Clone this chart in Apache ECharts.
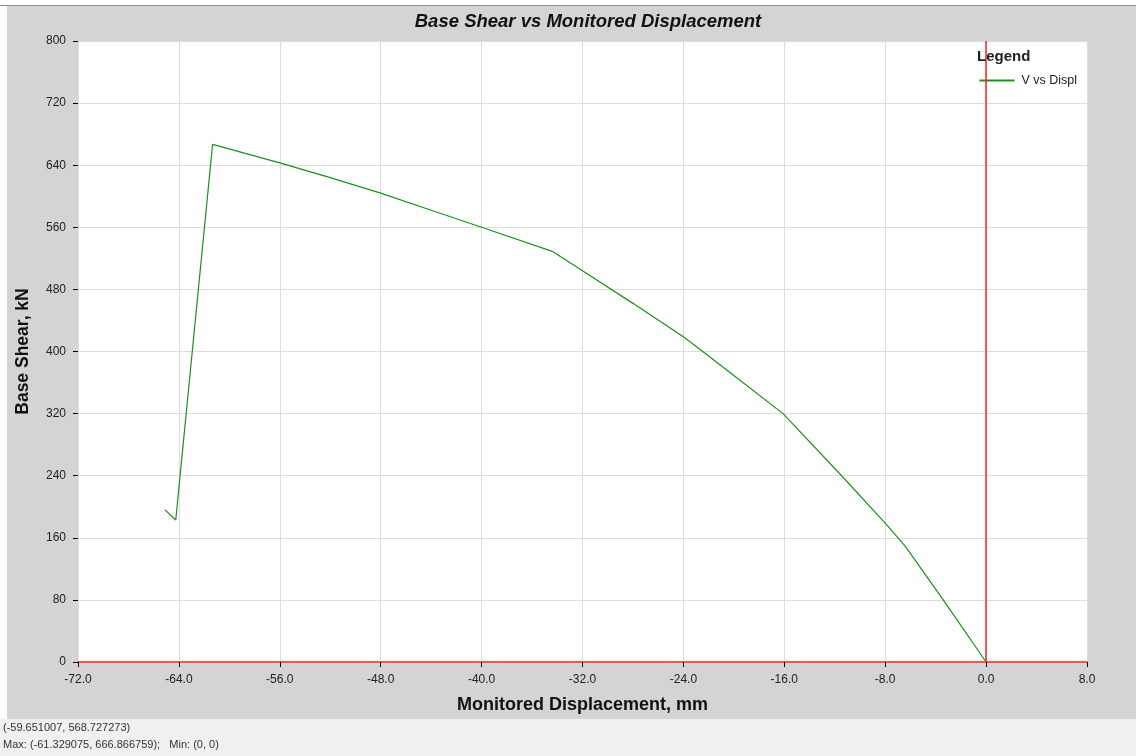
<!DOCTYPE html>
<html>
<head>
<meta charset="utf-8">
<script src="https://cdn.jsdelivr.net/npm/echarts@6/dist/echarts.min.js"></script>
<style>html,body{margin:0;padding:0;}#c{width:1136px;height:756px;}</style>
</head>
<body>
<div id="c"></div>
<script>
const displacement = [-65.1, -64.25, -61.33, -56, -52, -48, -44, -40, -34.4, -32, -28, -24, -22.7, -20, -16.1, -11.4, -8, -6.4, -3.4, 0];
const baseShear    = [196, 183, 666.87, 643, 624, 604, 582, 560, 529, 504, 462, 419, 403, 369, 320, 239, 179, 149, 80, 0];
const xTicks = { min: -72, max: 8, interval: 8 };
const yTicks = { min: 0, max: 800, interval: 80 };
const titleText = 'Base Shear vs Monitored Displacement';
const xTitle = 'Monitored Displacement, mm';
const yTitle = 'Base Shear, kN';
const seriesName = 'V vs Displ';
const statusLines = ['(-59.651007, 568.727273)', 'Max: (-61.329075, 666.866759);   Min: (0, 0)'];

const points = displacement.map((x, i) => [x, baseShear[i]]);
const font = 'Liberation Sans, Arial, sans-serif';
const chart = echarts.init(document.getElementById('c'));
chart.setOption({
  backgroundColor: '#d4d4d4',
  animation: false,
  title: {
    text: titleText, left: 583, top: 7, textAlign: 'center',
    textStyle: { fontFamily: font, fontSize: 18.5, fontWeight: 'bold', fontStyle: 'italic', color: '#111' }
  },
  graphic: [
    { type: 'rect', left: 0, top: 0, shape: { width: 1136, height: 5 }, style: { fill: '#ffffff' }, silent: true },
    { type: 'rect', left: 0, top: 0, shape: { width: 7, height: 756 }, style: { fill: '#ffffff' }, silent: true },
    { type: 'line', shape: { x1: 0, y1: 5.5, x2: 1136, y2: 5.5 }, style: { stroke: '#8a8a8a', lineWidth: 1 }, silent: true },
    { type: 'rect', left: 0, top: 719, shape: { width: 1136, height: 37 }, style: { fill: '#f0f0f0' }, silent: true },
    { type: 'text', left: 3, top: 722, style: { text: statusLines[0], font: '11px ' + font, fill: '#333' }, silent: true },
    { type: 'text', left: 3, top: 739, style: { text: statusLines[1], font: '11px ' + font, fill: '#333' }, silent: true },
    { type: 'text', left: 977, top: 49, z: 10, style: { text: 'Legend', font: 'bold 15px ' + font, fill: '#222' }, silent: true }
  ],
  legend: {
    data: [seriesName], right: 54, top: 69, itemWidth: 35, itemHeight: 2, icon: 'rect',
    textStyle: { fontFamily: font, fontSize: 12.5, color: '#222', padding: [0, 0, 0, 2] }, itemGap: 6
  },
  grid: {
    left: 78, right: 49, top: 41, bottom: 94, show: true,
    backgroundColor: '#ffffff', borderWidth: 0
  },
  xAxis: {
    type: 'value', min: xTicks.min, max: xTicks.max, interval: xTicks.interval,
    name: xTitle, nameLocation: 'middle', nameGap: 34,
    nameTextStyle: { fontFamily: font, fontSize: 18, fontWeight: 'bold', color: '#111' },
    axisLine: { show: true, onZero: false, lineStyle: { color: '#ff2020', width: 1.5 } },
    axisTick: { show: true, length: 5, lineStyle: { color: '#000' } },
    axisLabel: { formatter: v => v.toFixed(1), fontFamily: font, fontSize: 12, color: '#222', margin: 12 },
    splitLine: { show: true, lineStyle: { color: '#dddddd', width: 1 } }
  },
  yAxis: {
    type: 'value', min: yTicks.min, max: yTicks.max, interval: yTicks.interval,
    name: yTitle, nameLocation: 'middle', nameGap: 46,
    nameTextStyle: { fontFamily: font, fontSize: 17.5, fontWeight: 'bold', color: '#111' },
    axisLine: { show: false, onZero: false },
    axisTick: { show: true, length: 5, lineStyle: { color: '#000' } },
    axisLabel: { fontFamily: font, fontSize: 12, color: '#222', margin: 12 },
    splitLine: { show: true, lineStyle: { color: '#dddddd', width: 1 } }
  },
  series: [{
    name: seriesName, type: 'line', data: points, showSymbol: false, symbol: 'none',
    lineStyle: { color: '#1f8f1f', width: 1.2 }, itemStyle: { color: '#1f8f1f' },
    markLine: {
      silent: true, symbol: 'none', label: { show: false },
      lineStyle: { color: '#ff2020', width: 1.5, type: 'solid' },
      data: [{ xAxis: 0 }]
    },
    z: 3
  }]
});
</script>
</body>
</html>
